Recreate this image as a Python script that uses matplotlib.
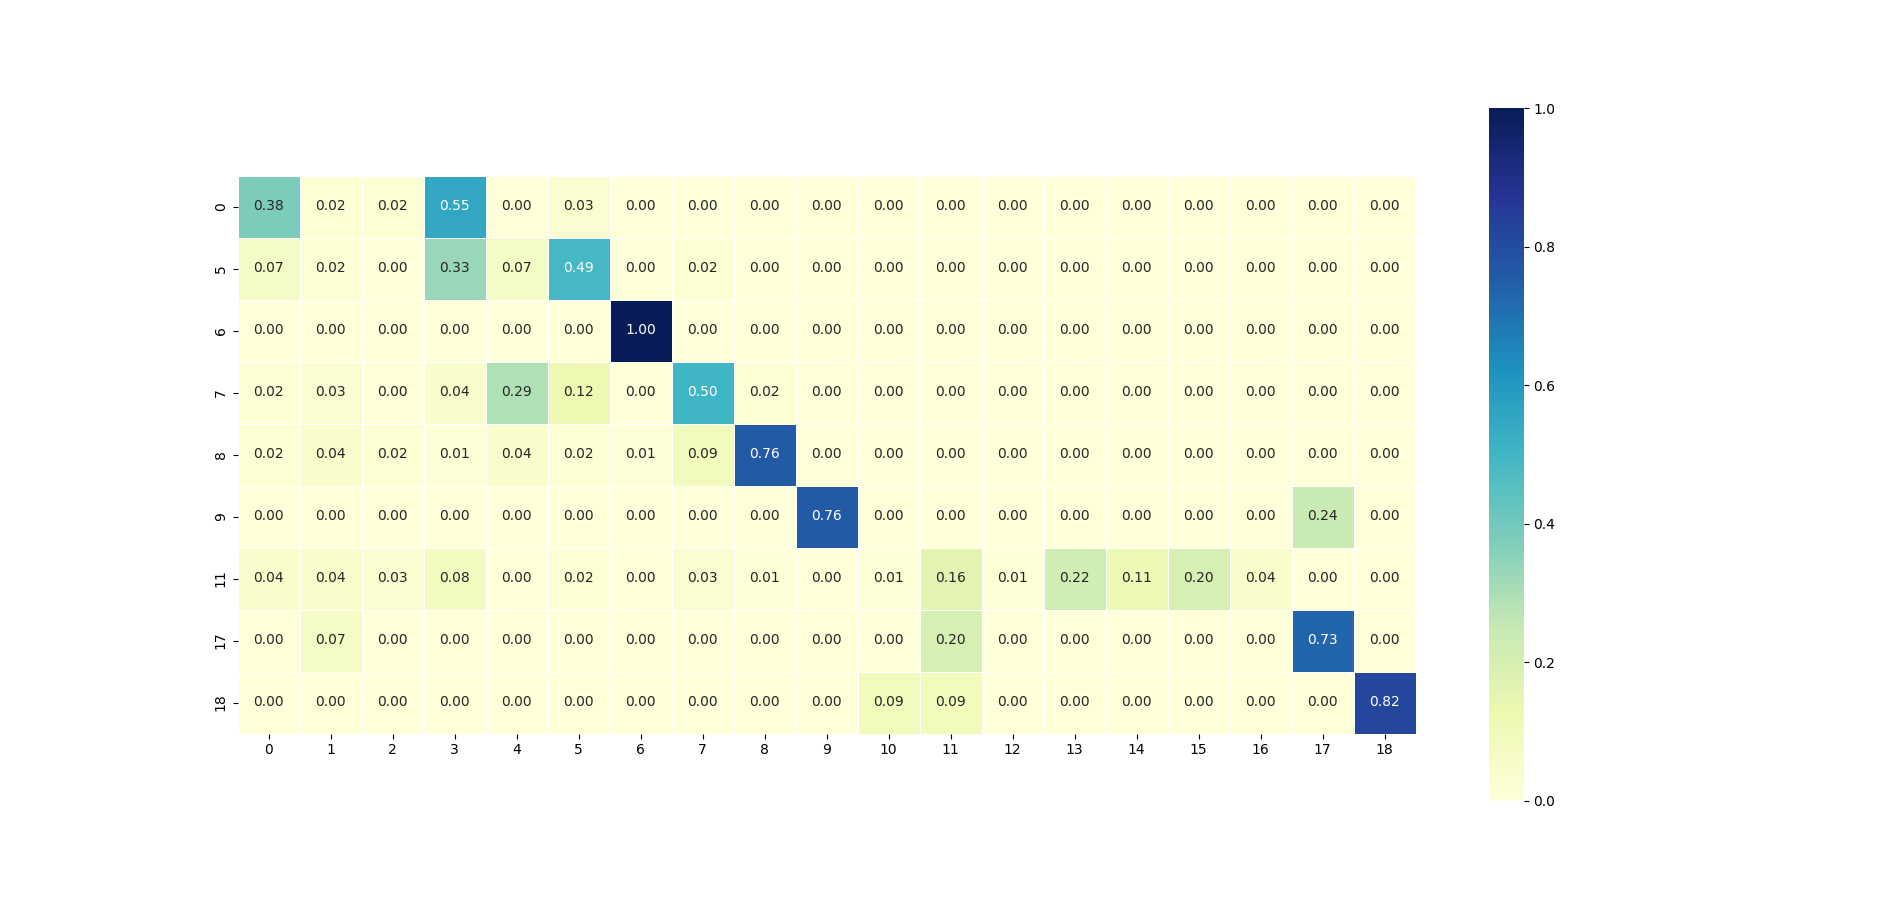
import numpy as np
import matplotlib
matplotlib.use("Agg")
import matplotlib.pyplot as plt
import seaborn as sns

row_labels = [0, 5, 6, 7, 8, 9, 11, 17, 18]
col_labels = list(range(19))

r0  = [0.38, 0.02, 0.02, 0.55, 0.00, 0.03, 0, 0, 0, 0, 0, 0, 0, 0, 0, 0, 0, 0, 0]
r5  = [0.07, 0.02, 0.00, 0.33, 0.07, 0.49, 0, 0.02, 0, 0, 0, 0, 0, 0, 0, 0, 0, 0, 0]
r6  = [0, 0, 0, 0, 0, 0, 1.00, 0, 0, 0, 0, 0, 0, 0, 0, 0, 0, 0, 0]
r7  = [0.02, 0.03, 0.00, 0.04, 0.29, 0.12, 0, 0.50, 0.02, 0, 0, 0, 0, 0, 0, 0, 0, 0, 0]
r8  = [0.02, 0.04, 0.02, 0.01, 0.04, 0.02, 0.01, 0.09, 0.76, 0, 0, 0, 0, 0, 0, 0, 0, 0, 0]
r9  = [0, 0, 0, 0, 0, 0, 0, 0, 0, 0.76, 0, 0, 0, 0, 0, 0, 0, 0.24, 0]
r11 = [0.04, 0.04, 0.03, 0.08, 0, 0.02, 0, 0.03, 0.01, 0, 0.01, 0.16, 0.01, 0.22, 0.11, 0.20, 0.04, 0, 0]
r17 = [0, 0.07, 0, 0, 0, 0, 0, 0, 0, 0, 0, 0.20, 0, 0, 0, 0, 0, 0.73, 0]
r18 = [0, 0, 0, 0, 0, 0, 0, 0, 0, 0, 0.09, 0.09, 0, 0, 0, 0, 0, 0, 0.82]

matriz = np.array([r0, r5, r6, r7, r8, r9, r11, r17, r18])

fig = plt.figure(figsize=(19, 9))
ax = sns.heatmap(matriz, annot=True, fmt=".2f", cmap="YlGnBu", vmin=0, vmax=1,
                 linewidths=0.5, square=True,
                 xticklabels=col_labels, yticklabels=row_labels)
plt.savefig("out.png")
